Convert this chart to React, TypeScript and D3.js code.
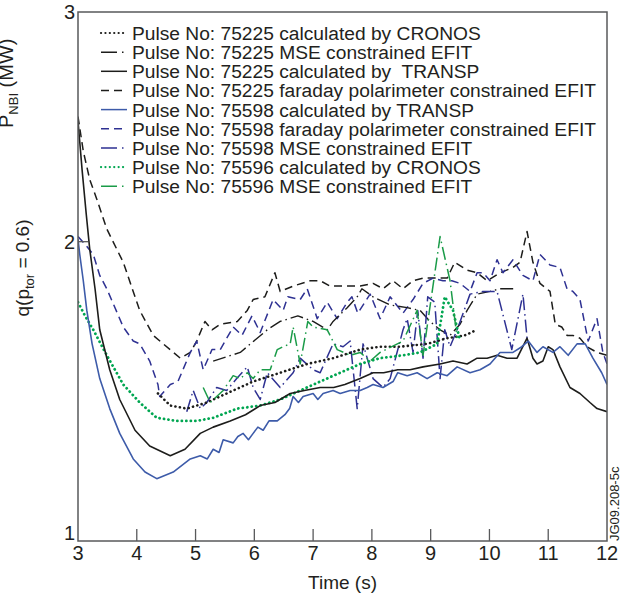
import * as d3 from 'd3'

type Pt = [number, number]

const W = 631
const H = 599
const margin = { top: 12, right: 24, bottom: 58, left: 78 }

const xTicks = [3, 4, 5, 6, 7, 8, 9, 10, 11, 12]
const yTicks = [1, 2, 3]

// [time (s), q]
const cronos75225: Pt[] = [
  [4.36, 1.45], [4.57, 1.41], [4.85, 1.40], [5.19, 1.42], [5.53, 1.45], [5.98, 1.49],
  [6.44, 1.52], [6.90, 1.55], [7.34, 1.57], [7.80, 1.60], [8.14, 1.61], [8.48, 1.61],
  [8.94, 1.62], [9.28, 1.64], [9.58, 1.65], [9.79, 1.67],
]

const mse75225: Pt[] = [
  [5.30, 1.56], [5.76, 1.59], [6.22, 1.67], [6.44, 1.70], [6.74, 1.72], [7.00, 1.70],
  [7.24, 1.67], [7.34, 1.70], [7.58, 1.75], [7.75, 1.79], [7.83, 1.82], [8.02, 1.79],
  [8.31, 1.76], [8.60, 1.75], [8.82, 1.74], [8.99, 1.70], [9.16, 1.67], [9.33, 1.65],
  [9.50, 1.69], [9.62, 1.74], [9.79, 1.80], [10.01, 1.81], [10.18, 1.82], [10.47, 1.82],
]

const transp75225: Pt[] = [
  [3.00, 2.50], [3.07, 2.29], [3.14, 2.11], [3.20, 1.97], [3.29, 1.82], [3.37, 1.67],
  [3.54, 1.53], [3.71, 1.43], [3.97, 1.33], [4.22, 1.28], [4.57, 1.25], [4.82, 1.27],
  [5.08, 1.32], [5.30, 1.34], [5.59, 1.36], [5.85, 1.38], [6.10, 1.41], [6.35, 1.42],
  [6.61, 1.45], [6.85, 1.46], [7.12, 1.47], [7.35, 1.47], [7.54, 1.48], [7.80, 1.50],
  [8.02, 1.52], [8.20, 1.52], [8.44, 1.53], [8.65, 1.53], [8.87, 1.54], [9.16, 1.55],
  [9.38, 1.56], [9.62, 1.55], [9.79, 1.57], [9.96, 1.57], [10.13, 1.58], [10.30, 1.57],
  [10.47, 1.57], [10.64, 1.64], [10.74, 1.57], [10.81, 1.55], [10.91, 1.56], [11.00, 1.61],
  [11.08, 1.60], [11.20, 1.54], [11.37, 1.47], [11.54, 1.45], [11.71, 1.42], [11.83, 1.40],
  [12.00, 1.39],
]

const faraday75225: Pt[] = [
  [3.00, 2.52], [3.09, 2.37], [3.20, 2.25], [3.32, 2.17], [3.49, 2.05], [3.77, 1.92],
  [4.05, 1.74], [4.28, 1.65], [4.45, 1.62], [4.74, 1.57], [4.91, 1.59], [5.02, 1.63],
  [5.16, 1.70], [5.28, 1.67], [5.42, 1.69], [5.71, 1.70], [5.88, 1.74], [5.98, 1.78],
  [6.18, 1.79], [6.35, 1.88], [6.44, 1.81], [6.66, 1.83], [6.95, 1.85], [7.12, 1.85],
  [7.29, 1.83], [7.58, 1.83], [7.80, 1.83], [8.02, 1.84], [8.19, 1.82], [8.36, 1.85],
  [8.53, 1.82], [8.70, 1.85], [8.87, 1.86], [9.04, 1.86], [9.28, 1.86], [9.41, 1.92],
  [9.62, 1.89], [9.79, 1.88], [9.96, 1.85], [10.18, 1.88], [10.40, 1.90], [10.52, 1.92],
  [10.64, 2.04], [10.74, 1.92], [10.86, 1.84], [11.03, 1.81], [11.12, 1.69], [11.23, 1.68],
  [11.32, 1.65], [11.42, 1.65], [11.54, 1.64], [11.66, 1.61], [11.83, 1.59], [12.00, 1.58],
]

const transp75598: Pt[] = [
  [3.00, 2.01], [3.03, 1.95], [3.09, 1.85], [3.15, 1.74], [3.24, 1.62], [3.37, 1.50],
  [3.54, 1.40], [3.71, 1.32], [3.94, 1.24], [4.14, 1.20], [4.34, 1.18], [4.62, 1.20],
  [4.91, 1.24], [5.08, 1.25], [5.20, 1.24], [5.30, 1.27], [5.40, 1.26], [5.47, 1.30],
  [5.64, 1.29], [5.72, 1.31], [5.81, 1.32], [5.90, 1.30], [5.98, 1.32], [6.06, 1.34],
  [6.15, 1.33], [6.25, 1.36], [6.39, 1.36], [6.52, 1.38], [6.60, 1.40], [6.66, 1.44],
  [6.75, 1.42], [6.83, 1.44], [7.00, 1.45], [7.08, 1.43], [7.17, 1.45], [7.34, 1.46],
  [7.46, 1.45], [7.63, 1.46], [7.80, 1.46], [7.92, 1.47], [8.02, 1.48], [8.19, 1.47],
  [8.36, 1.49], [8.44, 1.52], [8.60, 1.51], [8.77, 1.52], [8.94, 1.50], [9.11, 1.52],
  [9.28, 1.51], [9.45, 1.54], [9.67, 1.52], [9.84, 1.53], [10.01, 1.55], [10.18, 1.59],
  [10.30, 1.59], [10.40, 1.59], [10.55, 1.61], [10.66, 1.63], [10.81, 1.59], [10.91, 1.61],
  [11.08, 1.59], [11.20, 1.61], [11.34, 1.58], [11.49, 1.62], [11.63, 1.62], [11.76, 1.57],
  [11.91, 1.52], [12.00, 1.48],
]

const faraday75598: Pt[] = [
  [3.00, 2.02], [3.12, 1.99], [3.26, 1.95], [3.37, 1.87], [3.49, 1.82], [3.77, 1.68],
  [3.94, 1.63], [4.05, 1.62], [4.22, 1.56], [4.36, 1.48], [4.39, 1.44], [4.57, 1.48],
  [4.70, 1.49], [4.91, 1.59], [5.02, 1.63], [5.13, 1.53], [5.28, 1.60], [5.42, 1.60],
  [5.64, 1.68], [5.79, 1.65], [5.96, 1.72], [6.10, 1.66], [6.32, 1.78], [6.49, 1.74],
  [6.57, 1.79], [6.78, 1.78], [6.90, 1.82], [7.07, 1.71], [7.24, 1.77], [7.41, 1.71],
  [7.58, 1.77], [7.66, 1.79], [7.76, 1.73], [7.97, 1.80], [8.14, 1.71], [8.31, 1.79],
  [8.53, 1.73], [8.70, 1.78], [8.87, 1.84], [9.04, 1.86], [9.21, 1.85], [9.36, 1.85],
  [9.50, 1.84], [9.67, 1.81], [9.79, 1.88], [9.89, 1.88], [10.01, 1.85], [10.13, 1.93],
  [10.23, 1.88], [10.40, 1.93], [10.57, 1.87], [10.74, 1.85], [10.86, 1.95], [11.03, 1.91],
  [11.20, 1.90], [11.32, 1.82], [11.42, 1.81], [11.54, 1.78], [11.68, 1.63], [11.83, 1.71],
  [11.93, 1.59], [12.00, 1.55],
]

const mse75598: Pt[] = [
  [4.85, 1.39], [4.96, 1.46], [5.08, 1.40], [5.19, 1.42], [5.36, 1.47], [5.53, 1.46],
  [5.70, 1.50], [5.88, 1.54], [5.98, 1.47], [6.10, 1.43], [6.22, 1.52], [6.44, 1.47],
  [6.66, 1.52], [6.78, 1.57], [7.00, 1.53], [7.12, 1.52], [7.34, 1.62], [7.51, 1.61],
  [7.63, 1.63], [7.75, 1.40], [7.85, 1.62], [8.02, 1.50], [8.19, 1.47], [8.31, 1.50],
  [8.53, 1.67], [8.60, 1.71], [8.70, 1.59], [8.78, 1.74], [8.87, 1.57], [8.95, 1.79],
  [9.07, 1.77], [9.16, 1.50], [9.24, 1.67], [9.33, 1.61], [9.45, 1.67], [9.67, 1.80],
  [9.89, 1.81], [10.13, 1.81], [10.38, 1.60], [10.57, 1.80], [10.64, 1.64],
]

const cronos75596: Pt[] = [
  [3.00, 1.77], [3.12, 1.72], [3.26, 1.67], [3.49, 1.58], [3.77, 1.48], [4.05, 1.42],
  [4.34, 1.37], [4.68, 1.36], [5.02, 1.36], [5.30, 1.37], [5.71, 1.40], [6.10, 1.41],
  [6.44, 1.43], [6.78, 1.46], [7.12, 1.49], [7.46, 1.52], [7.80, 1.55], [8.14, 1.57],
  [8.53, 1.58], [8.82, 1.59], [9.11, 1.62], [9.24, 1.79], [9.38, 1.74], [9.50, 1.63],
]

const mse75596: Pt[] = [
  [5.13, 1.47], [5.25, 1.42], [5.47, 1.46], [5.64, 1.51], [5.76, 1.50], [5.88, 1.52],
  [5.98, 1.50], [6.10, 1.53], [6.27, 1.53], [6.39, 1.60], [6.49, 1.61], [6.61, 1.62],
  [6.66, 1.68], [6.78, 1.55], [6.91, 1.70], [7.00, 1.68], [7.24, 1.67], [7.41, 1.60],
  [7.63, 1.58], [7.80, 1.59], [7.97, 1.56], [8.14, 1.59], [8.53, 1.63], [8.77, 1.74],
  [8.87, 1.58], [9.16, 2.02], [9.33, 1.85], [9.45, 1.64],
]

const black = '#1d1d1b'
const blue = '#3d5ba9'
const navy = '#2e3192'
const green = '#00a651'

const series = [
  { label: 'Pulse No: 75225 calculated by CRONOS', data: cronos75225, color: black, w: 2.6, dash: '0.1 4.4' },
  { label: 'Pulse No: 75225 MSE constrained EFIT', data: mse75225, color: black, w: 1.4, dash: '13 4 1.5 4' },
  { label: 'Pulse No: 75225 calculated by  TRANSP', data: transp75225, color: black, w: 1.6, dash: null },
  { label: 'Pulse No: 75225 faraday polarimeter constrained EFIT', data: faraday75225, color: black, w: 1.5, dash: '8 5' },
  { label: 'Pulse No: 75598 calculated by TRANSP', data: transp75598, color: blue, w: 1.6, dash: null },
  { label: 'Pulse No: 75598 faraday polarimeter constrained EFIT', data: faraday75598, color: navy, w: 1.5, dash: '8 5' },
  { label: 'Pulse No: 75598 MSE constrained EFIT', data: mse75598, color: navy, w: 1.5, dash: '13 4 1.5 4' },
  { label: 'Pulse No: 75596 calculated by CRONOS', data: cronos75596, color: green, w: 2.8, dash: '0.1 4.4' },
  { label: 'Pulse No: 75596 MSE constrained EFIT', data: mse75596, color: '#1a9b48', w: 1.5, dash: '13 4 1.5 4' },
]

const font = '"Liberation Sans", Arial, Helvetica, sans-serif'

export default function App() {
  const x = d3.scaleLinear().domain([3, 12]).range([margin.left, W - margin.right])
  const y = d3.scaleSqrt().domain([1, 3]).range([H - margin.bottom, margin.top])
  const line = d3.line<Pt>().x(d => x(d[0])).y(d => y(d[1]))

  const x0 = margin.left
  const x1 = W - margin.right
  const y0 = H - margin.bottom
  const y1 = margin.top
  const drawOrder = [3, 5, 1, 6, 0, 7, 8, 2, 4]
  const isDot = (d: string | null) => !!d && d.startsWith('0.1')

  return (
    <div style={{ position: 'absolute', left: 0, top: 0 }}>
      <svg width={W} height={H} style={{ display: 'block', background: '#fff' }} fontFamily={font}>
        <defs>
          <clipPath id="plot">
            <rect x={x0} y={y1} width={x1 - x0} height={y0 - y1} />
          </clipPath>
        </defs>

        <g clipPath="url(#plot)" fill="none" strokeLinejoin="round">
          {drawOrder.map(i => {
            const s = series[i]
            return (
              <path key={i} d={line(s.data) ?? ''} stroke={s.color} strokeWidth={s.w}
                strokeDasharray={s.dash ?? undefined} strokeLinecap={isDot(s.dash) ? 'round' : 'butt'} />
            )
          })}
        </g>

        {/* frame and ticks */}
        <rect x={x0} y={y1} width={x1 - x0} height={y0 - y1} fill="none" stroke="#58595b" strokeWidth={1.5} />
        {xTicks.slice(1, -1).map(t => (
          <line key={t} x1={x(t)} x2={x(t)} y1={y0} y2={y0 - 12} stroke="#58595b" strokeWidth={1.3} />
        ))}
        {yTicks.slice(1, -1).map(t => (
          <line key={t} x1={x0} x2={x0 + 10} y1={y(t)} y2={y(t)} stroke="#58595b" strokeWidth={1.3} />
        ))}

        {xTicks.map(t => (
          <text key={t} x={x(t)} y={y0 + 19} textAnchor="middle" fontSize={20} fill="#231f20">{t}</text>
        ))}
        {yTicks.map(t => (
          <text key={t} x={x0 - 3} y={y(t) + 7 - (t === 1 ? 8 : 0)} textAnchor="end" fontSize={20} fill="#231f20">{t}</text>
        ))}

        <text x={(x0 + x1) / 2} y={589} textAnchor="middle" fontSize={19} fill="#231f20">Time (s)</text>

        <text transform="translate(29,268) rotate(-90)" textAnchor="middle" fontSize={19} fill="#231f20">
          q(p<tspan fontSize={13} dy={5}>tor</tspan><tspan dy={-5}> = 0.6)</tspan>
        </text>
        <text transform="translate(13,128) rotate(-90)" fontSize={20} fill="#231f20">
          P<tspan fontSize={13} dy={5}>NBI</tspan><tspan dy={-5}> (MW)</tspan>
        </text>

        <text transform={`translate(619,${y0}) rotate(-90)`} fontSize={13} fill="#231f20">JG09.208-5c</text>

        {/* legend */}
        {series.map((s, i) => {
          const cy = 33 + i * 19.15
          return (
            <g key={i}>
              <line x1={101} x2={127} y1={cy} y2={cy} stroke={s.color} strokeWidth={isDot(s.dash) ? 2.2 : 1.5}
                strokeDasharray={s.dash ? (isDot(s.dash) ? '0.1 4.3' : s.dash.startsWith('13') ? '16 5 1.5 4' : '8 5') : undefined}
                strokeLinecap={isDot(s.dash) ? 'round' : 'butt'} />
              <text x={132} y={cy + 7} fontSize={19.2} fill="#231f20" style={{ whiteSpace: 'pre' }}>{s.label}</text>
            </g>
          )
        })}
      </svg>
    </div>
  )
}
